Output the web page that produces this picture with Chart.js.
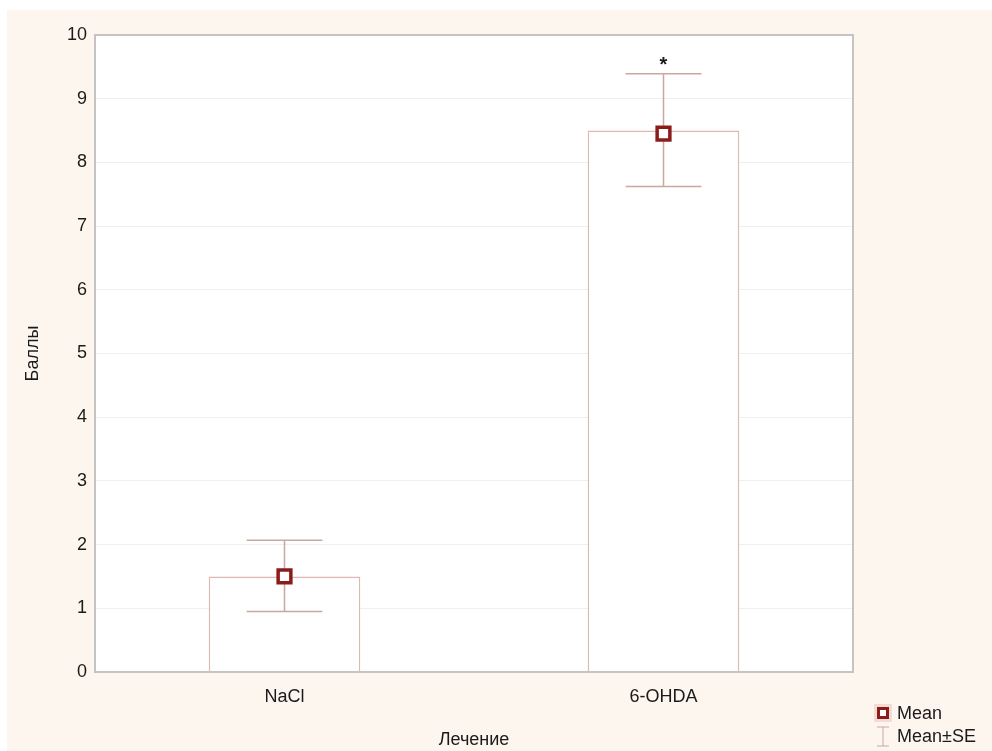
<!DOCTYPE html>
<html>
<head>
<meta charset="utf-8">
<script src="https://cdn.jsdelivr.net/npm/chart.js"></script>
<style>
  html, body { margin: 0; padding: 0; background: #ffffff; }
  #wrap { width: 992px; height: 751px; position: relative; }
</style>
</head>
<body>
<div id="wrap"><canvas id="chart"></canvas></div>
<script>
// data
const categories = ["NaCl", "6-OHDA"];
const barHeights = [1.5, 8.5];
const means = [1.5, 8.45];
const seUpper = [2.07, 9.39];
const seLower = [0.95, 7.62];
const marks = ["", "*"];
const yTicks = [0, 1, 2, 3, 4, 5, 6, 7, 8, 9, 10];

const FONT = "'Liberation Sans', Arial, sans-serif";
const TEXT = "#1a1a1a";
const PANEL = "#fdf6ef";
const BAR_LINE = "#dcb9b2";
const ERR_LINE = "#caa7a0";
const MEAN_RED = "#8c1c1c";

// cream panel behind everything, white plot area, frame
const backdrop = {
	id: "backdrop",
	beforeDraw(chart) {
		const ctx = chart.ctx;
		const a = chart.chartArea;
		ctx.save();
		ctx.fillStyle = "#ffffff";
		ctx.fillRect(0, 0, chart.width, chart.height);
		ctx.fillStyle = PANEL;
		ctx.fillRect(7, 10, chart.width - 7, chart.height - 10);
		ctx.fillStyle = "#ffffff";
		ctx.fillRect(a.left, a.top, a.right - a.left, a.bottom - a.top);
		ctx.restore();
	},
	afterDraw(chart) {
		const ctx = chart.ctx;
		const a = chart.chartArea;
		ctx.save();
		ctx.strokeStyle = "#c4c4c4";
		ctx.lineWidth = 2;
		ctx.strokeRect(a.left, a.top, a.right - a.left, a.bottom - a.top);
		ctx.restore();
	}
};

// whiskers for mean +/- SE, and significance mark
const errorBars = {
	id: "errorBars",
	beforeDatasetDraw(chart, args) {
		if (args.index !== 0) return;
		const ctx = chart.ctx;
		const x = chart.scales.x;
		const y = chart.scales.y;
		const capHalf = (x.getPixelForValue(1) - x.getPixelForValue(0)) * 0.1;
		ctx.save();
		ctx.strokeStyle = ERR_LINE;
		ctx.lineWidth = 1.5;
		categories.forEach(function(c, i) {
			const px = x.getPixelForValue(i);
			const top = y.getPixelForValue(seUpper[i]);
			const bot = y.getPixelForValue(seLower[i]);
			ctx.beginPath();
			ctx.moveTo(px, top); ctx.lineTo(px, bot);
			ctx.moveTo(px - capHalf, top); ctx.lineTo(px + capHalf, top);
			ctx.moveTo(px - capHalf, bot); ctx.lineTo(px + capHalf, bot);
			ctx.stroke();
			if (marks[i]) {
				ctx.fillStyle = TEXT;
				ctx.font = "bold 20px " + FONT;
				ctx.textAlign = "center";
				ctx.textBaseline = "alphabetic";
				ctx.fillText(marks[i], px, top - 3);
			}
		});
		ctx.restore();
	}
};

// small legend in the lower right corner
const cornerLegend = {
	id: "cornerLegend",
	afterDraw(chart) {
		const ctx = chart.ctx;
		ctx.save();
		ctx.fillStyle = "#f3dcd6";
		ctx.fillRect(874, 704, 18, 18);
		ctx.fillStyle = MEAN_RED;
		ctx.fillRect(877, 707, 12, 12);
		ctx.fillStyle = "#ffffff";
		ctx.fillRect(880, 710, 6, 6);
		ctx.strokeStyle = ERR_LINE;
		ctx.lineWidth = 1;
		ctx.beginPath();
		ctx.moveTo(877, 727); ctx.lineTo(889, 727);
		ctx.moveTo(883, 727); ctx.lineTo(883, 746);
		ctx.moveTo(877, 746); ctx.lineTo(889, 746);
		ctx.stroke();
		ctx.fillStyle = TEXT;
		ctx.font = "18px " + FONT;
		ctx.textAlign = "left";
		ctx.textBaseline = "middle";
		ctx.fillText("Mean", 897, 714);
		ctx.fillText("Mean\u00b1SE", 897, 737);
		ctx.restore();
	}
};

new Chart(document.getElementById("chart"), {
	type: "bar",
	data: {
		labels: categories,
		datasets: [
			{
				type: "line",
				label: "Mean",
				data: means,
				showLine: false,
				pointStyle: "rect",
				pointRadius: 9,
				pointBorderWidth: 3.5,
				pointBackgroundColor: "#ffffff",
				pointBorderColor: MEAN_RED,
				order: 0
			},
			{
				label: "bars",
				data: barHeights,
				backgroundColor: "#ffffff",
				borderColor: BAR_LINE,
				borderWidth: 1.5,
				categoryPercentage: 1,
				barPercentage: 0.4,
				order: 1
			}
		]
	},
	options: {
		responsive: true,
		maintainAspectRatio: false,
		animation: false,
		layout: { padding: { left: 7, right: 139, top: 35, bottom: 0 } },
		plugins: {
			legend: { display: false },
			tooltip: { enabled: false }
		},
		scales: {
			x: {
				offset: true,
				grid: { display: false },
				border: { display: false },
				ticks: { color: TEXT, font: { family: FONT, size: 18 }, padding: 6 },
				title: {
					display: true,
					text: "Лечение",
					color: TEXT,
					font: { family: FONT, size: 18 },
					padding: { top: 14, bottom: 0 }
				},
				afterFit: function(s) { s.height = 79; }
			},
			y: {
				min: 0,
				max: 10,
				afterBuildTicks: function(s) { s.ticks = yTicks.map(v => ({ value: v })); },
				grid: { color: "#efefef", lineWidth: 1, drawTicks: false },
				border: { display: false },
				ticks: { color: TEXT, font: { family: FONT, size: 18 }, padding: 8 },
				title: {
					display: true,
					text: "Баллы",
					color: TEXT,
					font: { family: FONT, size: 18 },
					padding: { top: 15, bottom: 18 }
				},
				afterFit: function(s) { s.width = 88; }
			}
		}
	},
	plugins: [backdrop, errorBars, cornerLegend]
});
</script>
</body>
</html>
